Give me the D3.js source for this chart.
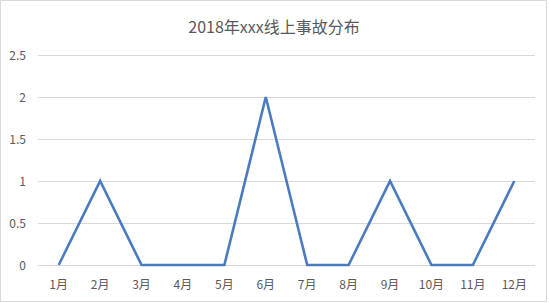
<!DOCTYPE html>
<html>
<head>
<meta charset="utf-8">
<script src="https://cdn.jsdelivr.net/npm/d3@7"></script>
<style>
  body { margin: 0; background: #fff; }
  svg text { font-family: "Noto Sans CJK SC", "Noto Sans", sans-serif; fill: #595959; }
</style>
</head>
<body>
<div id="chart"></div>
<script>
const months = ["1月","2月","3月","4月","5月","6月","7月","8月","9月","10月","11月","12月"];
const incidents = [0, 1, 0, 0, 0, 2, 0, 0, 1, 0, 0, 1];
const yTicks = [0, 0.5, 1, 1.5, 2, 2.5];
const title = "2018年xxx线上事故分布";

const width = 549, height = 303;
const margin = { top: 55, right: 14, bottom: 38, left: 38 };

const svg = d3.select("#chart").append("svg")
    .attr("width", width)
    .attr("height", height);

// outer border
svg.append("rect")
    .attr("x", 0.5).attr("y", 0.5)
    .attr("width", width - 3).attr("height", height - 2)
    .attr("fill", "#fff")
    .attr("stroke", "#d9d9d9");

svg.append("text")
    .attr("x", 274)
    .attr("y", 33)
    .attr("text-anchor", "middle")
    .attr("font-size", "16px")
    .text(title);

const x = d3.scaleBand()
    .domain(months)
    .range([margin.left, width - margin.right]);

const y = d3.scaleLinear()
    .domain([0, 2.5])
    .range([height - margin.bottom, margin.top]);

// gridlines
svg.selectAll(".grid")
    .data(yTicks)
    .enter().append("line")
    .attr("class", "grid")
    .attr("x1", margin.left)
    .attr("x2", width - margin.right)
    .attr("y1", d => Math.round(y(d)) + 0.5)
    .attr("y2", d => Math.round(y(d)) + 0.5)
    .attr("stroke", "#d9d9d9");

// y labels
svg.selectAll(".ylab")
    .data(yTicks)
    .enter().append("text")
    .attr("class", "ylab")
    .attr("x", 26)
    .attr("y", d => y(d) + 4.5)
    .attr("text-anchor", "end")
    .attr("font-size", "12px")
    .text(d => d);

// x labels
svg.selectAll(".xlab")
    .data(months)
    .enter().append("text")
    .attr("class", "xlab")
    .attr("x", d => x(d) + x.bandwidth() / 2)
    .attr("y", 289)
    .attr("text-anchor", "middle")
    .attr("font-size", "12px")
    .text(d => d);

// line
const line = d3.line()
    .x((d, i) => x(months[i]) + x.bandwidth() / 2)
    .y(d => y(d));

svg.append("path")
    .datum(incidents)
    .attr("d", line)
    .attr("fill", "none")
    .attr("stroke", "#4a7bc0")
    .attr("stroke-width", 2.6)
    .attr("stroke-linejoin", "miter");
</script>
</body>
</html>
